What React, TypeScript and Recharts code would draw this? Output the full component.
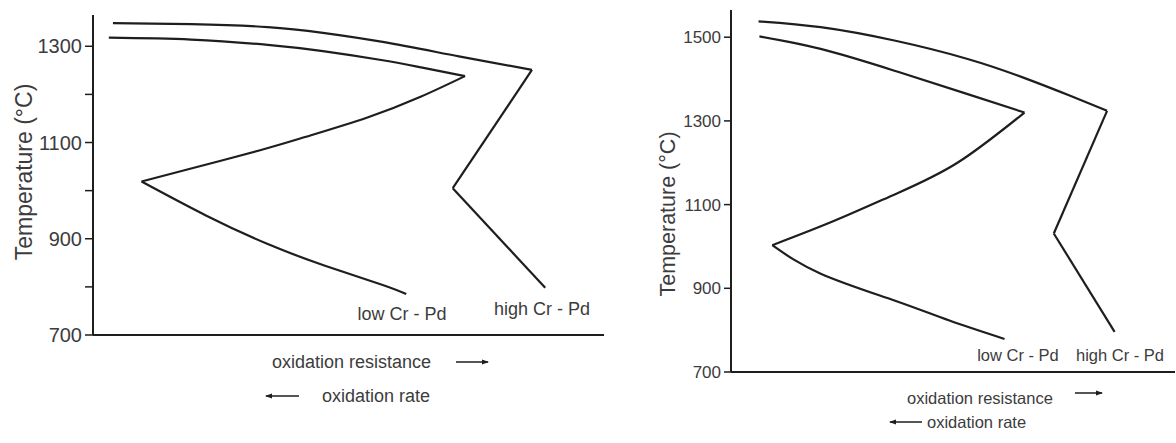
import React from "react";
import { LineChart, Line, XAxis, YAxis } from "recharts";

// left panel (temperature scale up to ~1360 °C)
const leftHighX = [3.9, 19.2, 34.2, 45, 56.7, 71.6, 85.9, 70.4, 88.5];
const leftHighT = [1348, 1346, 1340, 1328, 1309, 1279, 1251, 1005, 798];
const leftLowX = [3.1, 19.2, 34.2, 45, 56.7, 64.2, 72.8, 64.1, 53.7, 41.7, 32.7, 19.2, 9.5, 22.2, 34.2, 45.4, 56.7, 61.3];
const leftLowT = [1318, 1314, 1303, 1290, 1271, 1256, 1238, 1195, 1152, 1112, 1084, 1046, 1019, 948, 889, 844, 804, 785];

// right panel (temperature scale up to ~1560 °C)
const rightHighX = [6.2, 20.2, 36.8, 53.3, 65.7, 76.4, 84.7, 72.7, 86.4];
const rightHighT = [1538, 1524, 1492, 1448, 1404, 1360, 1324, 1031, 796];
const rightLowX = [6.4, 20.2, 36.8, 53.3, 66.1, 51, 37, 23, 9.3, 20.2, 36.8, 49.2, 61.6];
const rightLowT = [1502, 1472, 1420, 1364, 1320, 1200, 1125, 1060, 1003, 935, 871, 823, 779];

// indices where the curves have sharp corners
const leftHighCorners = [0, 6, 7, 8];
const leftLowCorners = [0, 6, 12, 17];
const rightHighCorners = [0, 6, 7, 8];
const rightLowCorners = [0, 4, 8, 12];

const leftTicks = [700, 800, 900, 1000, 1100, 1200, 1300];
const leftLabelled = [700, 900, 1100, 1300];
const rightTicks = [700, 900, 1100, 1300, 1500];

const zip = (xs: number[], ts: number[]) => xs.map((x, i) => ({ x, t: ts[i] }));

// split one polyline into smooth pieces that meet at the corners
const pieces = (xs: number[], ts: number[], corners: number[]) => {
  const pts = zip(xs, ts);
  const out: { x: number; t: number }[][] = [];
  for (let i = 0; i < corners.length - 1; i++) out.push(pts.slice(corners[i], corners[i + 1] + 1));
  return out;
};

const FONT = "'Liberation Sans', Arial, sans-serif";
const INK = "#1e1e1e";
const TXT = "#3c3c3c";

function Arrow({ x1, x2, y }: { x1: number; x2: number; y: number }) {
  const dir = x2 > x1 ? 1 : -1;
  const hx = x2 - dir * 6;
  return (
    <g>
      <line x1={x1} y1={y} x2={x2} y2={y} stroke={INK} strokeWidth={1.5} />
      <polygon points={`${hx},${y - 2.5} ${hx + dir * 7},${y} ${hx},${y + 2.5}`} fill={INK} />
    </g>
  );
}

function curveLines(segs: { x: number; t: number }[][], key: string) {
  return segs.map((d, i) => (
    <Line
      key={key + i}
      data={d}
      dataKey="t"
      type={d.length > 2 ? "natural" : "linear"}
      stroke={INK}
      strokeWidth={2.2}
      dot={false}
      isAnimationActive={false}
    />
  ));
}

export default function App() {
  const axisStyle = { stroke: INK, strokeWidth: 2 };
  return (
    <div style={{ position: "absolute", left: 0, top: 0, width: 1176, height: 443, background: "#fff", fontFamily: FONT }}>
      <div style={{ position: "absolute", left: 0, top: 0 }}>
        <LineChart width={610} height={443} margin={{ top: 15, right: 6, bottom: 78, left: 0 }}>
          <XAxis dataKey="x" type="number" domain={[0, 100]} tick={false} tickLine={false} height={30} axisLine={axisStyle} />
          <YAxis
            dataKey="t"
            type="number"
            domain={[700, 1365]}
            ticks={leftTicks}
            width={93}
            tickSize={8}
            tickMargin={3}
            tickFormatter={(v: number) => (leftLabelled.includes(v) ? String(v) : "")}
            tick={{ fill: TXT, fontSize: 20, fontFamily: FONT }}
            tickLine={{ stroke: INK, strokeWidth: 1.5 }}
            axisLine={axisStyle}
          />
          {curveLines(pieces(leftHighX, leftHighT, leftHighCorners), "lh")}
          {curveLines(pieces(leftLowX, leftLowT, leftLowCorners), "ll")}
        </LineChart>
      </div>
      <div style={{ position: "absolute", left: 600, top: 0 }}>
        <LineChart width={576} height={443} margin={{ top: 10, right: 1, bottom: 41, left: 0 }}>
          <XAxis dataKey="x" type="number" domain={[0, 100]} tick={false} tickLine={false} height={30} axisLine={axisStyle} />
          <YAxis
            dataKey="t"
            type="number"
            domain={[700, 1565]}
            ticks={rightTicks}
            width={131}
            tickSize={7}
            tickMargin={3}
            tick={{ fill: TXT, fontSize: 17, fontFamily: FONT }}
            tickLine={{ stroke: INK, strokeWidth: 1.5 }}
            axisLine={axisStyle}
          />
          {curveLines(pieces(rightHighX, rightHighT, rightHighCorners), "rh")}
          {curveLines(pieces(rightLowX, rightLowT, rightLowCorners), "rl")}
        </LineChart>
      </div>
      <svg width={1176} height={443} style={{ position: "absolute", left: 0, top: 0, pointerEvents: "none" }}>
        <g fill={TXT} fontFamily={FONT}>
          <text transform="translate(32,172) rotate(-90)" textAnchor="middle" fontSize={23}>Temperature (°C)</text>
          <text x={402} y={320} textAnchor="middle" fontSize={18}>low Cr - Pd</text>
          <text x={542} y={315} textAnchor="middle" fontSize={18}>high Cr - Pd</text>
          <text x={272} y={368} fontSize={18}>oxidation resistance</text>
          <text x={322} y={402} fontSize={18}>oxidation rate</text>

          <text transform="translate(675,214) rotate(-90)" textAnchor="middle" fontSize={21.5}>Temperature (°C)</text>
          <text x={1018} y={361} textAnchor="middle" fontSize={16.5}>low Cr - Pd</text>
          <text x={1120} y={361} textAnchor="middle" fontSize={16.5}>high Cr - Pd</text>
          <text x={907} y={404} fontSize={16.5}>oxidation resistance</text>
          <text x={927} y={428} fontSize={16.5}>oxidation rate</text>
        </g>
        <Arrow x1={456} x2={488} y={362} />
        <Arrow x1={299} x2={266} y={396} />
        <Arrow x1={1075} x2={1102} y={393} />
        <Arrow x1={922} x2={890} y={422} />
      </svg>
    </div>
  );
}
